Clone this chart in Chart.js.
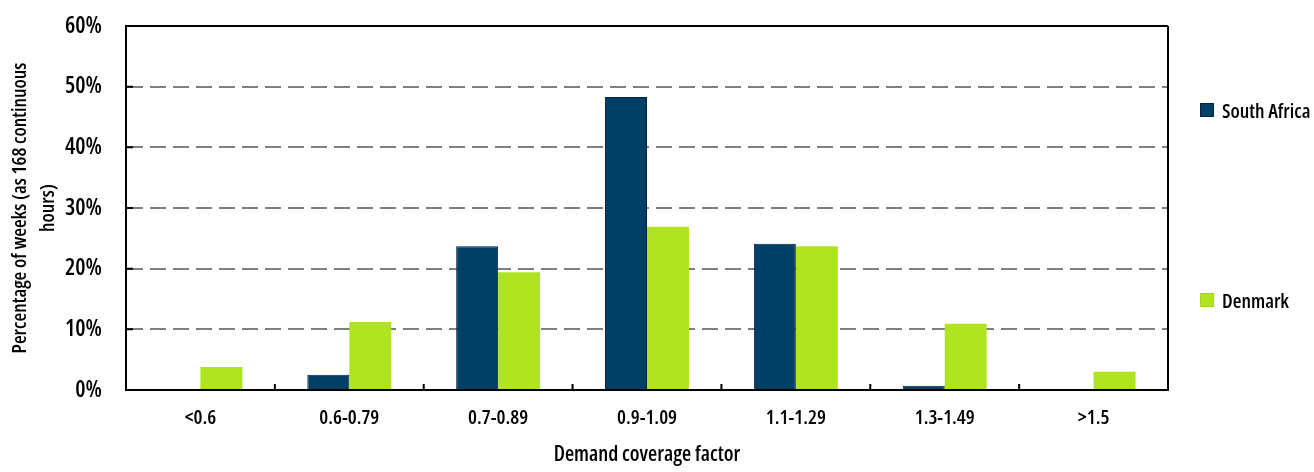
<!DOCTYPE html>
<html>
<head>
<meta charset="utf-8">
<script src="https://cdn.jsdelivr.net/npm/chart.js@4.4.1/dist/chart.umd.min.js"></script>
<style>
  html, body { margin: 0; padding: 0; background: #ffffff; }
  #wrap { position: relative; width: 1314px; height: 472px; }
  #c { position: absolute; left: 0; top: 0; }
  .leg { position: absolute; left: 1200px; height: 16px; display: flex; align-items: center;
         font-family: "Open Sans", sans-serif; font-stretch: 75%; font-weight: 600; font-size: 20px; color: #000; white-space: nowrap; }
  .leg span.box { display: inline-block; width: 12px; height: 12px; margin-right: 8px; }
</style>
</head>
<body>
<div id="wrap">
  <canvas id="c" width="1314" height="472"></canvas>
  <div class="leg" style="top:102px"><span class="box" style="background:#003f66;border:1px solid #0a2240"></span>South Africa</div>
  <div class="leg" style="top:292px"><span class="box" style="background:#b0e421;border:1px solid #a6d51f"></span>Denmark</div>
</div>
<script>
const categories = ["<0.6", "0.6-0.79", "0.7-0.89", "0.9-1.09", "1.1-1.29", "1.3-1.49", ">1.5"];
const southAfrica = [0, 2.5, 23.7, 48.3, 24.1, 0.7, 0];
const denmark = [3.8, 11.2, 19.4, 26.9, 23.7, 10.9, 3.0];
const yTicks = [0, 10, 20, 30, 40, 50, 60];

const FONT = '"Open Sans", sans-serif';
const WEIGHT = 'condensed 600';

const framePlugin = {
  id: 'frame',
  afterDraw(chart) {
    const { ctx, chartArea: a, scales } = chart;
    ctx.save();
    ctx.strokeStyle = '#000';
    ctx.lineWidth = 2;
    ctx.beginPath();
    ctx.moveTo(a.left, a.top); ctx.lineTo(a.right, a.top);
    ctx.moveTo(a.right, a.top); ctx.lineTo(a.right, a.bottom);
    yTicks.forEach(v => {
      const y = scales.y.getPixelForValue(v);
      ctx.moveTo(a.left, y); ctx.lineTo(a.left + 7, y);
    });
    for (let i = 0; i < categories.length - 1; i++) {
      const x = (scales.x.getPixelForValue(i) + scales.x.getPixelForValue(i + 1)) / 2;
      ctx.moveTo(x, a.bottom); ctx.lineTo(x, a.bottom - 6);
    }
    ctx.stroke();
    ctx.restore();
  }
};

new Chart(document.getElementById('c'), {
  type: 'bar',
  data: {
    labels: categories,
    datasets: [
      { label: 'South Africa', data: southAfrica, backgroundColor: '#003f66', borderColor: '#0a2240', borderWidth: 1 },
      { label: 'Denmark', data: denmark, backgroundColor: '#b0e421', borderColor: '#a6d51f', borderWidth: 0 }
    ]
  },
  options: {
    responsive: false,
    animation: false,
    events: [],
    layout: { padding: { left: 0, right: 146, top: 26, bottom: 0 } },
    datasets: { bar: { barPercentage: 1.0, categoryPercentage: 0.564 } },
    plugins: { legend: { display: false }, tooltip: { enabled: false } },
    scales: {
      x: {
        grid: { display: false, drawTicks: false },
        border: { display: true, color: '#000', width: 2 },
        ticks: { color: '#000', font: { family: FONT, size: 20, weight: WEIGHT }, padding: 16, maxRotation: 0 },
        title: { display: true, text: 'Demand coverage factor', color: '#000', font: { family: FONT, size: 21, weight: WEIGHT }, padding: { top: 0, bottom: 4 } },
        afterFit(s) { s.height = 82; s.paddingLeft = 0; s.paddingRight = 0; }
      },
      y: {
        min: 0, max: 60,
        afterBuildTicks(s) { s.ticks = yTicks.map(v => ({ value: v })); },
        grid: {
          drawTicks: false,
          color: ctx => (ctx.tick && (ctx.tick.value === 0 || ctx.tick.value === 60)) ? 'rgba(0,0,0,0)' : '#7f7f7f',
          lineWidth: 2
        },
        border: { display: true, color: '#000', width: 2, dash: [16, 7] },
        ticks: { color: '#000', font: { family: FONT, size: 23, weight: WEIGHT }, padding: 24, callback: v => v + '%' },
        title: {
          display: true,
          text: ['Percentage of weeks (as 168 continuous', 'hours)'],
          color: '#000',
          font: { family: FONT, size: 20, weight: WEIGHT, lineHeight: 1.4 },
          padding: { top: 6, bottom: 0 }
        },
        afterFit(s) { s.width = 126; s.paddingTop = 0; s.paddingBottom = 0; }
      }
    }
  },
  plugins: [framePlugin]
});
</script>
</body>
</html>
